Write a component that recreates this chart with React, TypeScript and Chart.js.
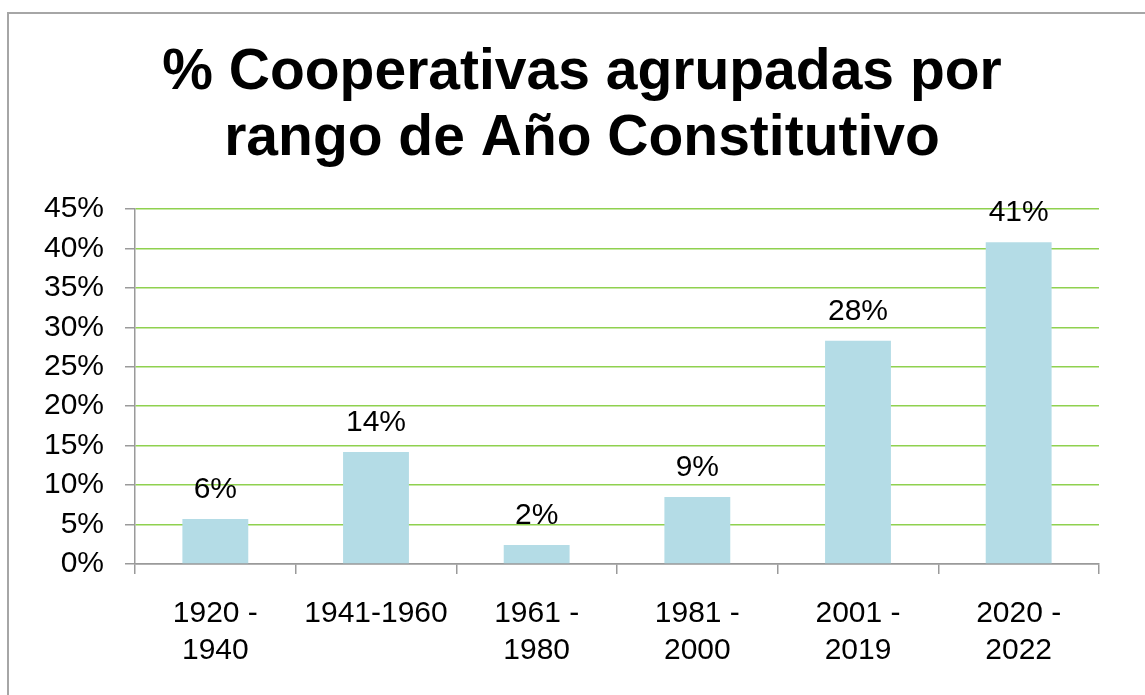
import React, { useEffect, useRef } from 'react';
import { Chart, registerables } from 'chart.js';

Chart.register(...registerables);

const titleLines = ['% Cooperativas agrupadas por', 'rango de Año Constitutivo'];
const categories: string[][] = [
  ['1920 -', '1940'],
  ['1941-1960'],
  ['1961 -', '1980'],
  ['1981 -', '2000'],
  ['2001 -', '2019'],
  ['2020 -', '2022'],
];
const values = [5.7, 14.2, 2.4, 8.5, 28.3, 40.8];
const yMin = 0;
const yMax = 45;
const yStep = 5;

const FONT = '"Liberation Sans", Arial, sans-serif';
const GRAY = '#9a9a9a';
const GREEN = '#8fd14f';
const BAR = '#b4dce6';

const dataLabelPlugin = {
  id: 'dataLabels',
  afterDatasetsDraw(chart: any) {
    const ctx = chart.ctx;
    const meta = chart.getDatasetMeta(0);
    ctx.save();
    ctx.font = `30px ${FONT}`;
    ctx.fillStyle = '#000';
    ctx.textAlign = 'center';
    ctx.textBaseline = 'alphabetic';
    meta.data.forEach((el: any, i: number) => {
      const v = chart.data.datasets[0].data[i] as number;
      ctx.fillText(`${Math.round(v)}%`, el.x, el.y - 21);
    });
    ctx.restore();
  },
};

const titleTextPlugin = {
  id: 'titleText',
  afterDraw(chart: any) {
    const ctx = chart.ctx;
    ctx.save();
    ctx.font = `bold 57px ${FONT}`;
    ctx.fillStyle = '#000';
    ctx.textAlign = 'center';
    ctx.textBaseline = 'alphabetic';
    titleLines.forEach((line, i) => {
      ctx.fillText(line, 573, 75 + i * 66);
    });
    ctx.restore();
  },
};

export default function App() {
  const ref = useRef<HTMLCanvasElement | null>(null);
  useEffect(() => {
    if (!ref.current) return;
    const chart = new Chart(ref.current, {
      type: 'bar',
      data: {
        labels: categories,
        datasets: [
          {
            data: values,
            backgroundColor: BAR,
            borderWidth: 0,
            categoryPercentage: 1,
            barPercentage: 0.41,
          },
        ],
      },
      options: {
        animation: false,
        responsive: true,
        maintainAspectRatio: false,
        layout: { padding: { left: 32, right: 46, top: 0, bottom: 5 } },
        plugins: {
          legend: { display: false },
          tooltip: { enabled: false },
          title: {
            display: true,
            text: titleLines,
            color: 'rgba(0,0,0,0)',
            font: { family: FONT, size: 58, weight: 'bold', lineHeight: 65 / 58 },
            padding: { top: 26, bottom: 39 },
          },
        },
        scales: {
          x: {
            grid: {
              display: true,
              drawOnChartArea: false,
              offset: true,
              tickLength: 10,
              tickColor: GRAY,
              lineWidth: 1.5,
            },
            border: { color: GRAY, width: 1.5 },
            ticks: {
              color: '#000',
              font: { family: FONT, size: 30, lineHeight: 37 / 30 },
              padding: 21,
              maxRotation: 0,
              minRotation: 0,
              autoSkip: false,
            },
          },
          y: {
            min: yMin,
            max: yMax,
            ticks: {
              stepSize: yStep,
              color: '#000',
              font: { family: FONT, size: 30 },
              padding: 21,
              callback: (v: any) => `${v}%`,
            },
            grid: {
              color: (c: any) => (c.tick && c.tick.value === 0 ? GRAY : GREEN),
              tickColor: GRAY,
              tickLength: 10,
              lineWidth: 1.5,
            },
            border: { color: GRAY, width: 1.5 },
            afterFit: (s: any) => {
              s.width = 94;
            },
          },
        },
      },
      plugins: [dataLabelPlugin, titleTextPlugin],
    });
    return () => chart.destroy();
  }, []);

  return (
    <div
      style={{
        position: 'fixed',
        left: 7,
        top: 12,
        right: 0,
        bottom: 0,
        borderTop: '2px solid #a6a6a6',
        borderLeft: '2px solid #a6a6a6',
        background: '#fff',
      }}
    >
      <div style={{ position: 'absolute', left: 0, top: 0, width: 1136, height: 681 }}>
        <canvas ref={ref} />
      </div>
    </div>
  );
}
